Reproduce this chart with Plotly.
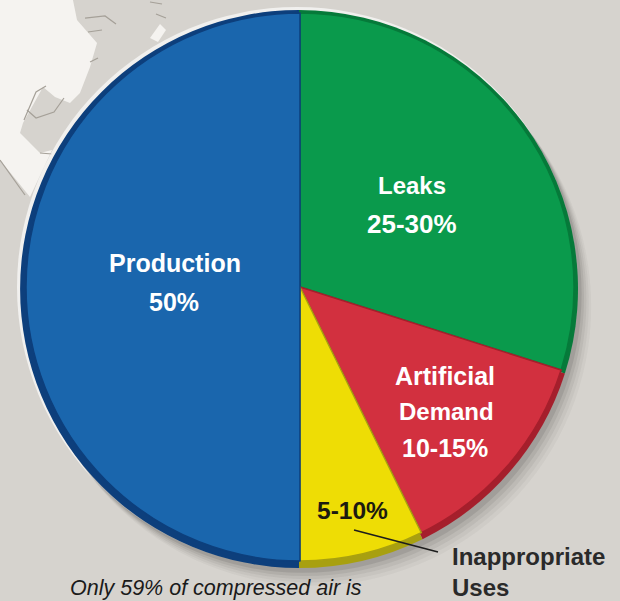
import plotly.graph_objects as go

categories = ["Leaks", "Artificial Demand", "Inappropriate Uses", "Production"]
values = [29.9, 12.8, 7.3, 50.0]
face_colors = ["#0a9a4c", "#d2303f", "#eedd05", "#1a66ad"]
rim_colors = ["#067a3a", "#a51f2c", "#a8a010", "#0d3f7c"]

W, H = 620, 601
CX, CY, R = 299, 289, 279


def domain(cx, cy, r):
    return dict(x=[(cx - r) / W, (cx + r) / W], y=[1 - (cy + r) / H, 1 - (cy - r) / H])


def circle(cx, cy, r, color):
    return dict(type="circle", xref="paper", yref="paper", layer="below",
                x0=(cx - r) / W, x1=(cx + r) / W,
                y0=1 - (cy + r) / H, y1=1 - (cy - r) / H,
                fillcolor=color, line=dict(width=0))


def px_path(points, close=True):
    parts = []
    for i, (x, y) in enumerate(points):
        parts.append(("M" if i == 0 else "L") + f"{x / W:.4f},{1 - y / H:.4f}")
    return " ".join(parts) + (" Z" if close else "")


coast = [(0, 0), (73, 0), (77, 20), (97, 43), (90, 67), (80, 93), (70, 103), (55, 97),
         (43, 87), (23, 123), (20, 133), (40, 153), (52, 150), (30, 197), (0, 160)]

shapes = [dict(type="path", xref="paper", yref="paper", layer="below", path=px_path(coast),
               fillcolor="#f5f3f0", line=dict(width=0)),
          dict(type="path", xref="paper", yref="paper", layer="below",
               path=px_path([(150, 38), (160, 24), (166, 30), (158, 42)]),
               fillcolor="#f5f3f0", line=dict(width=0))]
for pts in ([(85, 18), (105, 16), (116, 24)], [(88, 32), (102, 30)], [(150, 2), (162, 4)],
            [(156, 14), (166, 18)], [(90, 62), (98, 58)], [(24, 120), (36, 92), (46, 86)],
            [(27, 110), (36, 118), (54, 112), (64, 98)], [(40, 153), (52, 154)],
            [(0, 160), (25, 195)]):
    shapes.append(dict(type="path", xref="paper", yref="paper", layer="below",
                       path=px_path(pts, close=False),
                       line=dict(color="#a5a098", width=1.2)))
shapes.append(circle(CX - 2, CY - 2, R + 1, "rgba(255,255,255,0.65)"))
for off, a in ((22, 0.04), (18, 0.05), (14, 0.07), (10, 0.09), (6, 0.12)):
    shapes.append(circle(CX + off * 0.6, CY + off * 0.8, R, f"rgba(50,50,50,{a})"))
shapes.append(dict(type="line", xref="paper", yref="paper",
                   x0=354 / W, y0=1 - 530 / H, x1=438 / W, y1=1 - 552 / H,
                   line=dict(color="#1c1c1c", width=1.6)))

fig = go.Figure()
fig.add_trace(go.Pie(labels=categories, values=values, sort=False, direction="clockwise",
                     rotation=0, textinfo="none", hoverinfo="skip", showlegend=False,
                     marker=dict(colors=rim_colors, line=dict(width=0)),
                     domain=domain(CX, CY, R)))
fig.add_trace(go.Pie(labels=categories, values=values, sort=False, direction="clockwise",
                     rotation=0, textinfo="none", hoverinfo="skip", showlegend=False,
                     marker=dict(colors=face_colors, line=dict(color=rim_colors, width=1.5)),
                     domain=domain(CX + 1, CY - 2, R - 5)))

FONT = "Liberation Sans"


def note(x, y, text, color, size=24, weight="bold", family=FONT, style="normal", anchor="center"):
    if weight == "bold":
        text = f"<b>{text}</b>"
    if style == "italic":
        text = f"<i>{text}</i>"
    return dict(xref="paper", yref="paper", x=x / W, y=1 - y / H, text=text, showarrow=False,
                xanchor=anchor, yanchor="middle", align="center",
                font=dict(color=color, size=size, family=family))


annotations = [
    note(175, 263, "Production", "#ffffff", 25),
    note(174, 302, "50%", "#ffffff", 25),
    note(412, 186, "Leaks", "#ffffff", 24),
    note(412, 224, "25-30%", "#ffffff", 26),
    note(445, 376, "Artificial", "#ffffff", 25),
    note(446, 412, "Demand", "#ffffff", 24),
    note(445, 448, "10-15%", "#ffffff", 25),
    note(352, 510, "5-10%", "#1c1a10", 24.5),
    note(450, 556, "Inappropriate", "#2a2a2a", 24, anchor="left"),
    note(450, 587, "Uses", "#2a2a2a", 24, anchor="left"),
    note(68, 588, "Only 59% of compressed air is", "#1a1a1a", 21.5, weight="normal",
         style="italic", anchor="left"),
]

fig.update_layout(width=W, height=H, margin=dict(l=0, r=0, t=0, b=0),
                  paper_bgcolor="#d6d3ce", plot_bgcolor="#d6d3ce",
                  shapes=shapes, annotations=annotations, showlegend=False)
fig.write_html("out.html", config=dict(displayModeBar=False),
               post_script="document.body.style.margin='0';document.body.style.background='#d6d3ce';")
